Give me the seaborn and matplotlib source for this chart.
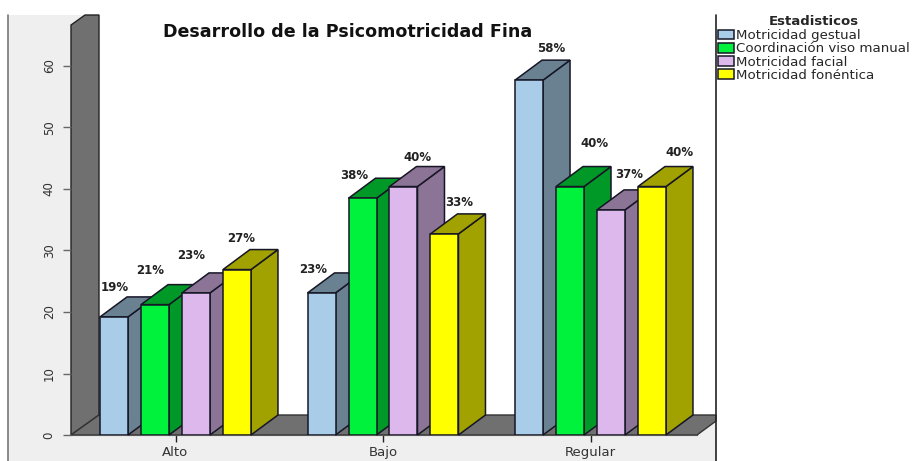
import matplotlib
matplotlib.use("Agg")
import matplotlib.pyplot as plt
from matplotlib.colors import to_rgb
from matplotlib.patches import Polygon, Rectangle
import pandas as pd
import seaborn as sns

niveles = ["Alto", "Bajo", "Regular"]
estadisticos = ["Motricidad gestual", "Coordinación viso manual", "Motricidad facial", "Motricidad fonéntica"]
gestual = [19.2, 23.1, 57.7]
viso_manual = [21.2, 38.5, 40.4]
facial = [23.1, 40.4, 36.6]
fonetica = [26.9, 32.7, 40.4]
colores = ["#a9cce8", "#00f23c", "#dcb8ec", "#ffff00"]

# where each % label sits relative to the bar top, in pixels (per hue, per category)
offsets = [[(1, 29), (-8, 23), (22, 32)],
           [(-5, 34), (-8, 23), (24, 43)],
           [(-5, 37), (14, 29), (18, 35)],
           [(4, 31), (15, 31), (28, 34)]]

W, H = 916, 461
sns.set_style("white")
plt.rcParams["font.family"] = ["DejaVu Sans"]

rows = []
for est, vals in zip(estadisticos, [gestual, viso_manual, facial, fonetica]):
    for niv, v in zip(niveles, vals):
        rows.append({"nivel": niv, "estadistico": est, "pct": v})
df = pd.DataFrame(rows)

fig = plt.figure(figsize=(W / 100, H / 100), dpi=100)

# background in pixel coords: panel, wall, floor
bg = fig.add_axes([0, 0, 1, 1], zorder=0)
bg.set_xlim(0, W)
bg.set_ylim(H, 0)
bg.axis("off")
bg.add_patch(Rectangle((8, 15), 708, 446, fc="#efefef", ec="none"))
bg.add_patch(Rectangle((99, 15), 617, 400, fc="white", ec="none"))
bg.add_patch(Polygon([(71, 435), (99, 415), (99, 15), (85, 15), (71, 25)], fc="#707070", ec="#222222", lw=1))
bg.add_patch(Polygon([(71, 435), (99, 415), (716, 415), (716, 421), (697, 435)], fc="#707070", ec="#333333", lw=1))
bg.plot([8, 8], [15, 461], color="#777777", lw=1.2)
bg.plot([716, 716], [15, 461], color="#222222", lw=1.2)

# main axes lines up with the front plane of the chart
ax = fig.add_axes([71 / W, (H - 435) / H, (716 - 71) / W, 420 / H], zorder=1)
ax.patch.set_alpha(0)
sns.barplot(data=df, x="nivel", y="pct", hue="estadistico", palette=colores, saturation=1,
            width=0.79, gap=0.317, edgecolor="#161626", linewidth=1.1, ax=ax)
ax.set_xlim((71 - 175.5) / 207.5, (716 - 175.5) / 207.5)
ax.set_ylim(0, 420 / 6.15)
dx = 27 / 207.5
dy = 20 / 6.15

for h, cont in enumerate(ax.containers):
    side = tuple(c * 0.63 for c in to_rgb(colores[h]))
    for i, bar in enumerate(cont):
        x0 = bar.get_x()
        x1 = x0 + bar.get_width()
        top = bar.get_height()
        z = 3 + h
        bar.set_zorder(z + 0.5)
        ax.add_patch(Polygon([(x1, 0), (x1 + dx, dy), (x1 + dx, top + dy), (x1, top)],
                             fc=side, ec="#161626", lw=1.1, zorder=z, clip_on=False))
        ax.add_patch(Polygon([(x0, top), (x0 + dx, top + dy), (x1 + dx, top + dy), (x1, top)],
                             fc=side, ec="#161626", lw=1.1, zorder=z, clip_on=False))
        ax.annotate(f"{top:.0f}%", xy=(x0 + bar.get_width() / 2, top), xytext=offsets[h][i],
                    textcoords="offset pixels", ha="center", va="center",
                    fontsize=8.5, fontweight="bold", color="#222222", zorder=50)

for s in ax.spines.values():
    s.set_visible(False)
ax.spines["bottom"].set_visible(True)
ax.spines["bottom"].set_bounds(ax.get_xlim()[0], (697 - 175.5) / 207.5)
ax.spines["bottom"].set_color("#555555")
ax.set_xlabel("")
ax.set_ylabel("")
ax.set_yticks([0, 10, 20, 30, 40, 50, 60])
ax.tick_params(axis="y", left=True, length=6, width=1, color="#666666", labelsize=8.5,
               labelcolor="#333333", labelrotation=90, pad=5)
ax.tick_params(axis="x", bottom=True, length=5, width=1, color="#222222", labelsize=9.5,
               labelcolor="#333333", pad=3)
for t in ax.get_yticklabels():
    t.set_va("center")

ax.get_legend().remove()
handles = [c[0] for c in ax.containers]
leg = fig.legend(handles, estadisticos, title="Estadisticos", loc="upper left",
                 bbox_to_anchor=(717 / W, 1 - 14 / H), frameon=False, fontsize=9.6,
                 title_fontproperties={"weight": "bold", "size": 9.5},
                 labelspacing=0.02, handlelength=1.2, handleheight=0.75, handletextpad=0.2,
                 borderpad=0.05, borderaxespad=0)
leg.get_title().set_position((0, 0))
leg._legend_box.sep = 1

fig.text(348 / W, 1 - 32 / H, "Desarrollo de la Psicomotricidad Fina", ha="center", va="center",
         fontsize=12.6, fontweight="bold", color="#111111")

fig.savefig("out.png", dpi=100)
